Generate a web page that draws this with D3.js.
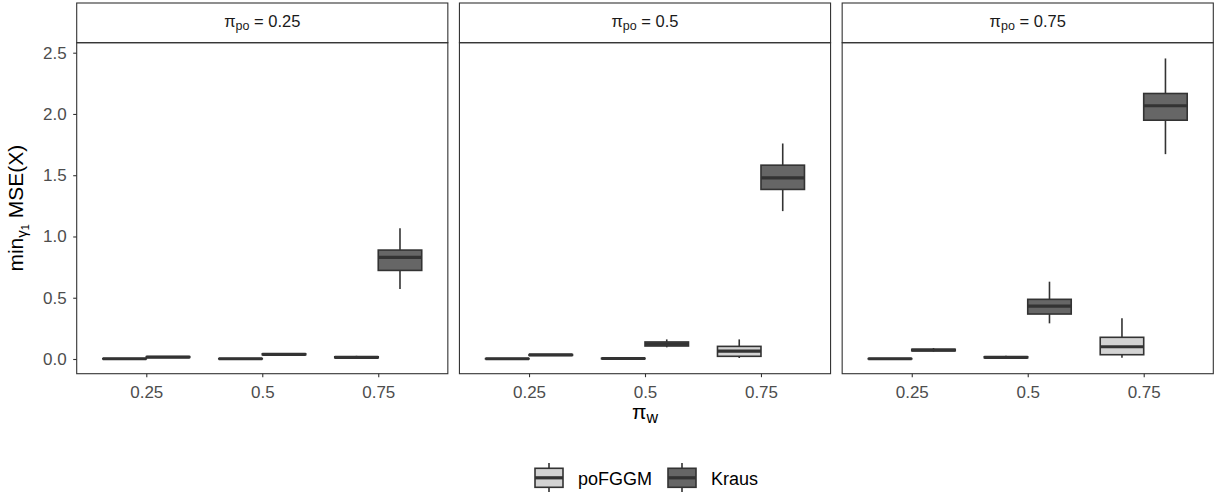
<!DOCTYPE html>
<html>
<head>
<meta charset="utf-8">
<script src="https://cdn.jsdelivr.net/npm/d3@7"></script>
<style>
  body { margin: 0; background: #fff; }
  svg { display: block; font-family: "Liberation Sans", Arial, Helvetica, sans-serif; }
</style>
</head>
<body>
<svg id="chart" width="1215" height="496"></svg>
<script>
// ---------- data ----------
const panels = ["0.25", "0.5", "0.75"];          // pi_po facets
const piW = ["0.25", "0.5", "0.75"];             // x categories
const methods = ["poFGGM", "Kraus"];
const yTicks = [0, 0.5, 1.0, 1.5, 2.0, 2.5];
// box stats: [panel, piW, lower whisker, q1, median, q3, upper whisker]
const poFGGMStats = [
  ["0.25", "0.25", 0.000, 0.001, 0.002, 0.003, 0.005],
  ["0.25", "0.5",  0.000, 0.001, 0.002, 0.003, 0.005],
  ["0.25", "0.75", 0.005, 0.010, 0.014, 0.018, 0.026],
  ["0.5",  "0.25", 0.000, 0.001, 0.002, 0.003, 0.005],
  ["0.5",  "0.5",  0.001, 0.002, 0.004, 0.006, 0.009],
  ["0.5",  "0.75", 0.008, 0.022, 0.065, 0.103, 0.160],
  ["0.75", "0.25", 0.000, 0.001, 0.002, 0.003, 0.005],
  ["0.75", "0.5",  0.006, 0.010, 0.014, 0.018, 0.026],
  ["0.75", "0.75", 0.011, 0.035, 0.100, 0.177, 0.332]
];
const krausStats = [
  ["0.25", "0.25", 0.010, 0.013, 0.016, 0.019, 0.023],
  ["0.25", "0.5",  0.032, 0.035, 0.038, 0.042, 0.046],
  ["0.25", "0.75", 0.571, 0.723, 0.830, 0.889, 1.068],
  ["0.5",  "0.25", 0.027, 0.030, 0.033, 0.036, 0.040],
  ["0.5",  "0.5",  0.095, 0.106, 0.122, 0.139, 0.160],
  ["0.5",  "0.75", 1.207, 1.384, 1.479, 1.582, 1.759],
  ["0.75", "0.25", 0.060, 0.067, 0.073, 0.079, 0.090],
  ["0.75", "0.5",  0.291, 0.367, 0.432, 0.487, 0.631],
  ["0.75", "0.75", 1.672, 1.949, 2.067, 2.167, 2.453]
];
const fillColors = ["#d3d3d3", "#666666"];

// ---------- layout ----------
const svg = d3.select("#chart");
const L = { left: 76.7, right: 1213.3, gap: 11.6, stripTop: 3, stripBottom: 42.7, bottom: 373.7 };
const pw = (L.right - L.left - 2 * L.gap) / 3;
const line = "#333333";

const y = d3.scaleLinear().domain([-0.12, 2.5816]).range([L.bottom, L.stripBottom]);
const fx = d3.scaleBand().domain(panels).range([L.left, L.right]).paddingInner(L.gap / (pw + L.gap)).paddingOuter(0);
const x = d3.scalePoint().domain(piW).range([0, fx.bandwidth()]).padding(0.6);
const step = x.step();
const boxW = 0.375 * step;
const dodge = d3.scaleOrdinal().domain(methods).range([-boxW / 2, boxW / 2]);
const color = d3.scaleOrdinal().domain(methods).range(fillColors);

const allStats = [
  ...poFGGMStats.map(d => ({ m: "poFGGM", p: d[0], w: d[1], lo: d[2], q1: d[3], med: d[4], q3: d[5], hi: d[6] })),
  ...krausStats.map(d => ({ m: "Kraus", p: d[0], w: d[1], lo: d[2], q1: d[3], med: d[4], q3: d[5], hi: d[6] }))
];

panels.forEach((p, i) => {
  const g = svg.append("g").attr("transform", `translate(${fx(p)},0)`);
  const W = fx.bandwidth();
  // strip
  g.append("rect").attr("x", 0).attr("y", L.stripTop).attr("width", W).attr("height", L.stripBottom - L.stripTop)
    .attr("fill", "#ffffff").attr("stroke", line).attr("stroke-width", 1.1);
  const st = g.append("text").attr("x", W / 2).attr("y", 26.5).attr("text-anchor", "middle")
    .attr("font-size", 16.5).attr("fill", "#1a1a1a");
  st.append("tspan").text("π");
  st.append("tspan").attr("font-size", 12.5).attr("dy", 3.5).text("po");
  st.append("tspan").attr("dy", -3.5).text(" = " + p);

  // x axis
  const xa = g.append("g").attr("transform", `translate(0,${L.bottom})`)
    .call(d3.axisBottom(x).tickSize(3.5).tickPadding(9));
  xa.select(".domain").remove();
  xa.selectAll("line").attr("stroke", line).attr("stroke-width", 1.1);
  xa.selectAll("text").attr("font-size", 17).attr("fill", "#4d4d4d").attr("font-family", "Liberation Sans, Arial, sans-serif");

  if (i === 0) {
    const ya = g.append("g").call(d3.axisLeft(y).tickValues(yTicks).tickFormat(d3.format(".1f")).tickSize(3.5).tickPadding(6.5));
    ya.select(".domain").remove();
    ya.selectAll("line").attr("stroke", line).attr("stroke-width", 1.1);
    ya.selectAll("text").attr("font-size", 17).attr("fill", "#4d4d4d").attr("font-family", "Liberation Sans, Arial, sans-serif");
  }

  // boxes
  const data = allStats.filter(d => d.p === p);
  const bx = g.selectAll(".box").data(data).join("g")
    .attr("transform", d => `translate(${x(d.w) + dodge(d.m)},0)`);
  bx.append("line").attr("x1", 0).attr("x2", 0).attr("y1", d => y(d.hi)).attr("y2", d => y(d.q3))
    .attr("stroke", line).attr("stroke-width", 1.6);
  bx.append("line").attr("x1", 0).attr("x2", 0).attr("y1", d => y(d.q1)).attr("y2", d => y(d.lo))
    .attr("stroke", line).attr("stroke-width", 1.6);
  bx.append("rect").attr("x", -boxW / 2).attr("width", boxW)
    .attr("y", d => y(d.q3)).attr("height", d => Math.max(0.01, y(d.q1) - y(d.q3)))
    .attr("fill", d => color(d.m)).attr("stroke", line).attr("stroke-width", 1.6);
  bx.append("line").attr("x1", -boxW / 2).attr("x2", boxW / 2).attr("y1", d => y(d.med)).attr("y2", d => y(d.med))
    .attr("stroke", line).attr("stroke-width", 3.2);

  // panel border
  g.append("rect").attr("x", 0).attr("y", L.stripBottom).attr("width", W).attr("height", L.bottom - L.stripBottom)
    .attr("fill", "none").attr("stroke", line).attr("stroke-width", 1.1);
});

// axis titles
const xt = svg.append("text").attr("x", (L.left + L.right) / 2).attr("y", 419).attr("text-anchor", "middle")
  .attr("font-size", 21).attr("fill", "#000");
xt.append("tspan").text("π");
xt.append("tspan").attr("font-size", 16).attr("dy", 4).text("w");

const yt = svg.append("text").attr("transform", `translate(23,${(L.stripBottom + L.bottom) / 2}) rotate(-90)`)
  .attr("text-anchor", "middle").attr("font-size", 21).attr("fill", "#000");
yt.append("tspan").text("min");
yt.append("tspan").attr("font-size", 15).attr("dy", 4).text("γ");
yt.append("tspan").attr("font-size", 11).attr("dy", 2).text("1");
yt.append("tspan").attr("dy", -6).text(" MSE(X)");

// legend
const legX = [535, 668];
const lg = svg.append("g");
methods.forEach((m, i) => {
  const k = lg.append("g").attr("transform", `translate(${legX[i]},0)`);
  k.append("line").attr("x1", 14).attr("x2", 14).attr("y1", 463).attr("y2", 492).attr("stroke", line).attr("stroke-width", 1.6);
  k.append("rect").attr("x", 0).attr("y", 468.3).attr("width", 28).attr("height", 19)
    .attr("fill", color(m)).attr("stroke", line).attr("stroke-width", 1.6);
  k.append("line").attr("x1", 0).attr("x2", 28).attr("y1", 477.8).attr("y2", 477.8).attr("stroke", line).attr("stroke-width", 3.2);
  k.append("text").attr("x", 43).attr("y", 484.5).attr("font-size", 18).attr("fill", "#000").text(m);
});
</script>
</body>
</html>
